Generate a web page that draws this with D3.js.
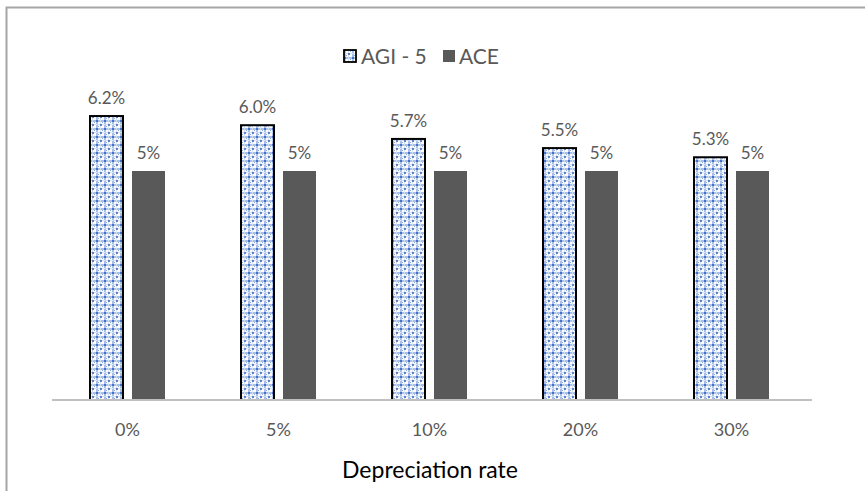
<!DOCTYPE html>
<html>
<head>
<meta charset="utf-8">
<script src="https://cdn.jsdelivr.net/npm/d3@7"></script>
<style>
  html, body { margin: 0; padding: 0; background: #fff; }
  svg { display: block; font-family: Lato, "Open Sans", sans-serif; }
</style>
</head>
<body>
<svg id="chart" width="865" height="491"></svg>
<script>
// Depreciation rate scenarios and the two series
const categories = ["0%", "5%", "10%", "20%", "30%"];
const seriesNames = ["AGI - 5", "ACE"];
const agiValues = [6.2, 6.0, 5.7, 5.5, 5.3];
const aceValues = [5, 5, 5, 5, 5];
const agiLabels = ["6.2%", "6.0%", "5.7%", "5.5%", "5.3%"];
const aceLabels = ["5%", "5%", "5%", "5%", "5%"];
const axisTitle = "Depreciation rate";

const svg = d3.select("#chart");
const W = 865, H = 491;
const plot = { left: 52, right: 807, top: 79.4, bottom: 400 };

// Chart-area border (top and left edges visible)
svg.append("path")
  .attr("d", `M6.5,${H} L6.5,7.5 L${W},7.5`)
  .attr("fill", "none")
  .attr("stroke", "#a6a6a6")
  .attr("stroke-width", 2);

// Lattice fill for the AGI series
const defs = svg.append("defs");
const pat = defs.append("pattern")
  .attr("id", "lattice")
  .attr("patternUnits", "userSpaceOnUse")
  .attr("width", 8).attr("height", 8);
pat.append("rect").attr("width", 8).attr("height", 8).attr("fill", "#ffffff");
pat.append("rect").attr("x", 0).attr("y", 0).attr("width", 8).attr("height", 2).attr("fill", "#a9c0e8");
pat.append("rect").attr("x", 0).attr("y", 0).attr("width", 2).attr("height", 8).attr("fill", "#a9c0e8");
pat.append("rect").attr("x", 0).attr("y", 4).attr("width", 8).attr("height", 1).attr("fill", "#d3def3");
pat.append("rect").attr("x", 4).attr("y", 0).attr("width", 1).attr("height", 8).attr("fill", "#d3def3");
pat.append("rect").attr("x", 0).attr("y", 0).attr("width", 2).attr("height", 2).attr("fill", "#4472c4");
pat.append("rect").attr("x", 4).attr("y", 4).attr("width", 2).attr("height", 2).attr("fill", "#5b84cc");
pat.append("rect").attr("x", 2).attr("y", 6).attr("width", 1).attr("height", 1).attr("fill", "#8eaadb");
pat.append("rect").attr("x", 6).attr("y", 2).attr("width", 1).attr("height", 1).attr("fill", "#8eaadb");

const x = d3.scaleBand().domain(categories).range([plot.left, plot.right]).paddingInner(0).paddingOuter(0);
const y = d3.scaleLinear().domain([0, 7]).range([plot.bottom, plot.top]);

const barW = 33, gap = 9;
const data = categories.map((c, i) => ({ c, agi: agiValues[i], ace: aceValues[i], agiL: agiLabels[i], aceL: aceLabels[i] }));
const center = d => x(d.c) + x.bandwidth() / 2;

// AGI bars
svg.selectAll("rect.agi").data(data).join("rect")
  .attr("class", "agi")
  .attr("x", d => center(d) - gap / 2 - barW)
  .attr("y", d => y(d.agi))
  .attr("width", barW)
  .attr("height", d => y(0) - y(d.agi))
  .attr("fill", "url(#lattice)")
  .attr("stroke", "#000")
  .attr("stroke-width", 2);

// ACE bars
svg.selectAll("rect.ace").data(data).join("rect")
  .attr("class", "ace")
  .attr("x", d => center(d) + gap / 2)
  .attr("y", d => y(d.ace))
  .attr("width", barW)
  .attr("height", d => y(0) - y(d.ace))
  .attr("fill", "#595959");

// Value labels
const labelStyle = sel => sel.attr("text-anchor", "middle").attr("font-size", 17).attr("fill", "#595959");
svg.selectAll("text.agiL").data(data).join("text")
  .attr("class", "agiL")
  .attr("x", d => center(d) - gap / 2 - barW / 2)
  .attr("y", d => y(d.agi) - 12)
  .text(d => d.agiL)
  .call(labelStyle);
svg.selectAll("text.aceL").data(data).join("text")
  .attr("class", "aceL")
  .attr("x", d => center(d) + gap / 2 + barW / 2)
  .attr("y", d => y(d.ace) - 12)
  .text(d => d.aceL)
  .call(labelStyle);

// Category axis
const xAxis = svg.append("g")
  .attr("transform", `translate(0,${plot.bottom})`)
  .call(d3.axisBottom(x).tickSize(0).tickPadding(23));
xAxis.select(".domain")
  .attr("d", `M${plot.left},0H812`)
  .attr("stroke", "#bfbfbf").attr("stroke-width", 2);
xAxis.selectAll("text").attr("font-size", 18).attr("fill", "#595959").attr("font-family", "Lato, 'Open Sans', sans-serif");

// Axis title
svg.append("text")
  .attr("x", 430).attr("y", 478)
  .attr("text-anchor", "middle")
  .attr("font-size", 23)
  .attr("fill", "#000")
  .text(axisTitle);

// Legend
const legend = svg.append("g").attr("transform", "translate(0,57)");
legend.append("rect").attr("x", 344).attr("y", -7).attr("width", 12).attr("height", 12)
  .attr("fill", "url(#lattice)").attr("stroke", "#000").attr("stroke-width", 1.8);
legend.append("text").attr("x", 361).attr("y", 7).attr("font-size", 21).attr("fill", "#595959").text(seriesNames[0]);
legend.append("rect").attr("x", 443).attr("y", -7).attr("width", 12).attr("height", 12).attr("fill", "#595959");
legend.append("text").attr("x", 459).attr("y", 7).attr("font-size", 21).attr("fill", "#595959").text(seriesNames[1]);
</script>
</body>
</html>
